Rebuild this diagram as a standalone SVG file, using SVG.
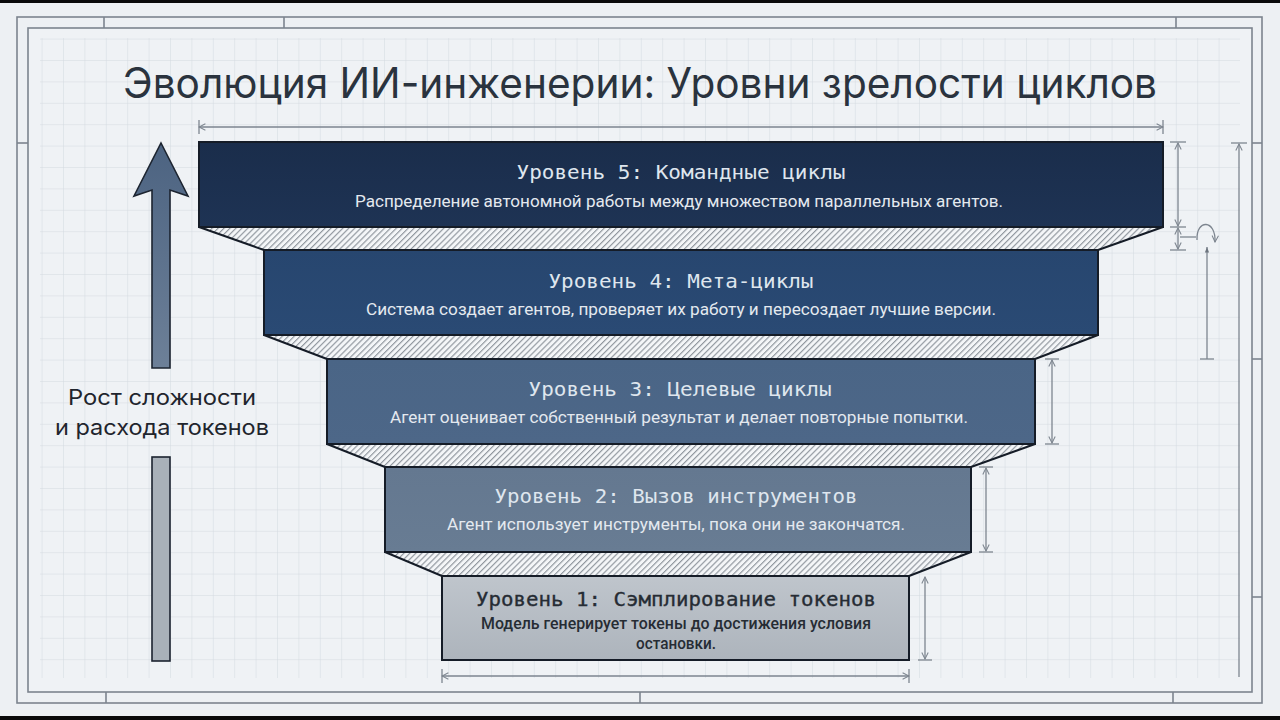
<svg xmlns="http://www.w3.org/2000/svg" width="1280" height="720" viewBox="0 0 1280 720">
  <defs>
    <pattern id="grid" x="41.6" y="38.6" width="21.4" height="21.4" patternUnits="userSpaceOnUse">
      <path d="M0 0 V21.4 M0 0 H21.4" fill="none" stroke="#d3d9e0" stroke-width="1"/>
    </pattern>
    <pattern id="hatch" width="4.2" height="10" patternUnits="userSpaceOnUse" patternTransform="rotate(45)">
      <rect width="4.2" height="10" fill="#f4f6f8"/>
      <line x1="0.6" y1="0" x2="0.6" y2="10" stroke="#8a9199" stroke-width="1.1"/>
    </pattern>
    <linearGradient id="g5" x1="0" y1="0" x2="0" y2="1"><stop offset="0" stop-color="#1a2d4b"/><stop offset="1" stop-color="#1e3354"/></linearGradient>
    <linearGradient id="g4" x1="0" y1="0" x2="0" y2="1"><stop offset="0" stop-color="#27466f"/><stop offset="1" stop-color="#2a4a74"/></linearGradient>
    <linearGradient id="g3" x1="0" y1="0" x2="0" y2="1"><stop offset="0" stop-color="#4a6586"/><stop offset="1" stop-color="#4d6788"/></linearGradient>
    <linearGradient id="g2" x1="0" y1="0" x2="0" y2="1"><stop offset="0" stop-color="#647890"/><stop offset="1" stop-color="#687c93"/></linearGradient>
    <linearGradient id="g1" x1="0" y1="0" x2="0" y2="1"><stop offset="0" stop-color="#bfc5cc"/><stop offset="1" stop-color="#adb4bc"/></linearGradient>
    <linearGradient id="garrow" x1="0" y1="0" x2="0" y2="1"><stop offset="0" stop-color="#4c6381"/><stop offset="1" stop-color="#6d8098"/></linearGradient>
    <marker id="open" viewBox="0 0 10 10" refX="9" refY="5" markerWidth="8" markerHeight="8" orient="auto-start-reverse" markerUnits="userSpaceOnUse">
      <path d="M1 1 L9 5 L1 9" fill="none" stroke="#7d858f" stroke-width="1.3"/>
    </marker>
    <marker id="solid" viewBox="0 0 10 10" refX="9" refY="5" markerWidth="7" markerHeight="7" orient="auto-start-reverse" markerUnits="userSpaceOnUse">
      <path d="M1 2 L9 5 L1 8 Z" fill="#6d757f"/>
    </marker>
    <style>
      .frame{fill:none;stroke:#7c848e;stroke-width:1.6}
      .tick{stroke:#7c848e;stroke-width:1.6}
      .dim{fill:none;stroke:#7d858f;stroke-width:1.3}
      .box{stroke:#151c27;stroke-width:2}
      .edge{stroke:#151c27;stroke-width:2;fill:none}
      .lvl{font-family:"DejaVu Sans Mono","Liberation Mono",monospace;font-size:20px;text-anchor:middle;fill:#dfe6ee}
      .desc{font-family:Roboto,"Noto Sans",sans-serif;font-size:16px;text-anchor:middle;fill:#e4e9ef}
      .dark{fill:#262c34}
      .side{font-family:Inter,"Noto Sans",sans-serif;font-size:22px;text-anchor:middle;fill:#1f252d}
    </style>
  </defs>

  <rect x="0" y="0" width="1280" height="720" fill="#edf0f3"/>
  <rect x="28" y="28" width="1224" height="664" fill="#eff2f5"/>
  <rect x="40" y="38" width="1200" height="640" fill="url(#grid)"/>

  <g id="frame">
    <rect class="frame" x="17" y="17" width="1245" height="686"/>
    <rect class="frame" x="28" y="28" width="1224" height="664"/>
    <line class="tick" x1="104" y1="17" x2="104" y2="28"/>
    <line class="tick" x1="284" y1="17" x2="284" y2="28"/>
    <line class="tick" x1="1176" y1="17" x2="1176" y2="28"/>
    <line class="tick" x1="17" y1="143" x2="28" y2="143"/>
    <line class="tick" x1="1252" y1="143" x2="1262" y2="143"/>
    <line class="tick" x1="1252" y1="359" x2="1262" y2="359"/>
    <line class="tick" x1="1252" y1="597" x2="1262" y2="597"/>
    <line class="tick" x1="106" y1="692" x2="106" y2="703"/>
    <line class="tick" x1="640" y1="692" x2="640" y2="703"/>
    <line class="tick" x1="1173" y1="692" x2="1173" y2="703"/>
  </g>

  <rect x="0" y="0" width="1280" height="3" fill="#0a0a0a"/>
  <rect x="0" y="716" width="1280" height="4" fill="#0a0a0a"/>

  <text id="title" x="640" y="98" font-family="Inter,'Noto Sans',sans-serif" font-size="42" fill="#2a333e" text-anchor="middle" textLength="1034" lengthAdjust="spacingAndGlyphs">Эволюция ИИ-инженерии: Уровни зрелости циклов</text>

  <g id="growth-arrow">
    <polygon points="161,143 188,196 170,190 170,368 152,368 152,190 134,196" fill="url(#garrow)" stroke="#1c2430" stroke-width="1.6" stroke-linejoin="miter"/>
    <text class="side" x="162" y="405" textLength="188" lengthAdjust="spacingAndGlyphs">Рост сложности</text>
    <text class="side" x="162" y="435" textLength="214" lengthAdjust="spacingAndGlyphs">и расхода токенов</text>
    <rect x="152" y="457" width="18" height="204" fill="#a9b1b9" stroke="#1c2430" stroke-width="1.6"/>
  </g>

  <g id="transitions">
    <polygon points="199,227 1163,227 1098,250 264,250" fill="url(#hatch)"/>
    <line class="edge" x1="199" y1="227" x2="264" y2="250"/>
    <line class="edge" x1="1163" y1="227" x2="1098" y2="250"/>
    <polygon points="264,335 1098,335 1035,359 327,359" fill="url(#hatch)"/>
    <line class="edge" x1="264" y1="335" x2="327" y2="359"/>
    <line class="edge" x1="1098" y1="335" x2="1035" y2="359"/>
    <polygon points="327,444 1035,444 971,467 385,467" fill="url(#hatch)"/>
    <line class="edge" x1="327" y1="444" x2="385" y2="467"/>
    <line class="edge" x1="1035" y1="444" x2="971" y2="467"/>
    <polygon points="385,552 971,552 909,576 442,576" fill="url(#hatch)"/>
    <line class="edge" x1="385" y1="552" x2="442" y2="576"/>
    <line class="edge" x1="971" y1="552" x2="909" y2="576"/>
  </g>

  <g id="level5">
    <rect class="box" x="199" y="142" width="964" height="85" fill="url(#g5)"/>
    <text class="lvl" x="681" y="179" textLength="329" lengthAdjust="spacingAndGlyphs">Уровень 5: Командные циклы</text>
    <text class="desc" x="679" y="207" textLength="648" lengthAdjust="spacingAndGlyphs">Распределение автономной работы между множеством параллельных агентов.</text>
  </g>
  <g id="level4">
    <rect class="box" x="264" y="250" width="834" height="85" fill="url(#g4)"/>
    <text class="lvl" x="681" y="288" textLength="265" lengthAdjust="spacingAndGlyphs">Уровень 4: Мета-циклы</text>
    <text class="desc" x="681" y="315" textLength="630" lengthAdjust="spacingAndGlyphs">Система создает агентов, проверяет их работу и пересоздает лучшие версии.</text>
  </g>
  <g id="level3">
    <rect class="box" x="327" y="359" width="708" height="85" fill="url(#g3)"/>
    <text class="lvl" x="680" y="396" textLength="303" lengthAdjust="spacingAndGlyphs">Уровень 3: Целевые циклы</text>
    <text class="desc" x="679" y="423" textLength="578" lengthAdjust="spacingAndGlyphs">Агент оценивает собственный результат и делает повторные попытки.</text>
  </g>
  <g id="level2">
    <rect class="box" x="385" y="467" width="586" height="85" fill="url(#g2)"/>
    <text class="lvl" x="676" y="503" textLength="363" lengthAdjust="spacingAndGlyphs">Уровень 2: Вызов инструментов</text>
    <text class="desc" x="676" y="530" textLength="458" lengthAdjust="spacingAndGlyphs">Агент использует инструменты, пока они не закончатся.</text>
  </g>
  <g id="level1">
    <rect class="box" x="442" y="576" width="467" height="84" fill="url(#g1)"/>
    <text class="lvl dark" x="676" y="606" stroke="#262c34" stroke-width="0.35" textLength="400" lengthAdjust="spacingAndGlyphs">Уровень 1: Сэмплирование токенов</text>
    <text class="desc dark" x="676" y="629" font-weight="500" textLength="390" lengthAdjust="spacingAndGlyphs">Модель генерирует токены до достижения условия</text>
    <text class="desc dark" x="676" y="649" font-weight="500" textLength="80" lengthAdjust="spacingAndGlyphs">остановки.</text>
  </g>

  <g id="connectors">
    <line class="dim" x1="199" y1="127" x2="1163" y2="127" marker-start="url(#open)" marker-end="url(#open)"/>
    <line class="dim" x1="199" y1="120" x2="199" y2="134"/>
    <line class="dim" x1="1163" y1="120" x2="1163" y2="134"/>
    <line class="dim" x1="442" y1="676" x2="909" y2="676" marker-start="url(#open)" marker-end="url(#open)"/>
    <line class="dim" x1="442" y1="669" x2="442" y2="683"/>
    <line class="dim" x1="909" y1="669" x2="909" y2="683"/>
    <line class="dim" x1="1178" y1="143" x2="1178" y2="226" marker-start="url(#open)" marker-end="url(#open)"/>
    <line class="dim" x1="1170" y1="142" x2="1186" y2="142"/>
    <line class="dim" x1="1170" y1="227" x2="1186" y2="227"/>
    <line class="dim" x1="1178" y1="228" x2="1178" y2="249" marker-start="url(#open)" marker-end="url(#open)"/>
    <line class="dim" x1="1170" y1="250" x2="1186" y2="250"/>
    <line class="dim" x1="1180" y1="237" x2="1196" y2="237"/>
    <path class="dim" d="M1197 240 C1196 219 1216 219 1215 242" marker-end="url(#open)"/>
    <line class="dim" x1="1207" y1="359" x2="1207" y2="247" marker-end="url(#solid)"/>
    <line class="dim" x1="1200" y1="359" x2="1214" y2="359"/>
    <line class="dim" x1="1239" y1="677" x2="1239" y2="144" marker-end="url(#open)"/>
    <line class="dim" x1="1231" y1="143" x2="1247" y2="143"/>
    <line class="dim" x1="1052" y1="360" x2="1052" y2="443" marker-start="url(#open)" marker-end="url(#open)"/>
    <line class="dim" x1="1045" y1="359" x2="1059" y2="359"/>
    <line class="dim" x1="1045" y1="444" x2="1059" y2="444"/>
    <line class="dim" x1="986" y1="468" x2="986" y2="551" marker-start="url(#open)" marker-end="url(#open)"/>
    <line class="dim" x1="979" y1="467" x2="993" y2="467"/>
    <line class="dim" x1="979" y1="552" x2="993" y2="552"/>
    <line class="dim" x1="925" y1="577" x2="925" y2="659" marker-start="url(#open)" marker-end="url(#open)"/>
    <line class="dim" x1="918" y1="660" x2="932" y2="660"/>
  </g>
</svg>
